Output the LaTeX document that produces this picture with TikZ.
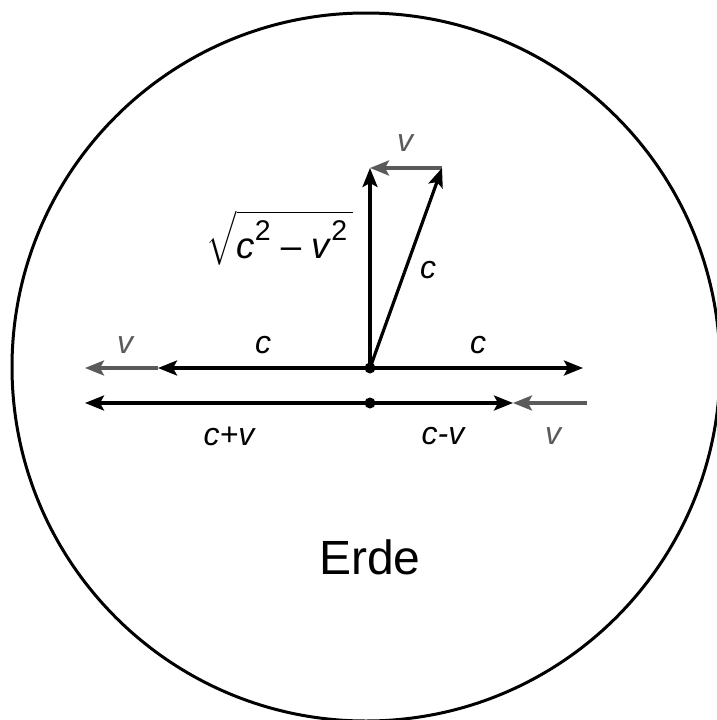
\documentclass[tikz,border=0pt]{standalone}
\usepackage{graphicx}
\usepackage{fontspec}
\setmainfont{Liberation Sans}
\usetikzlibrary{arrows.meta}
\definecolor{vgray}{HTML}{5A5A5A}
\begin{document}
\begin{tikzpicture}[x=1pt,y=-1pt,
  lbl/.style={font=\fontsize{32}{32}\selectfont\itshape, inner sep=0pt, text=black},
  glbl/.style={lbl, text=vgray},
  blk/.style={line width=3.2pt, draw=black, -{Stealth[length=19pt,width=15pt,inset=4pt]}},
  gry/.style={blk, draw=vgray, fill=vgray},
  dot/.style={circle, fill=black, inner sep=0pt, minimum size=11pt}]
\useasboundingbox (0,0) rectangle (717,720);
\draw[line width=3pt] (366,367) circle (354);
% points
\coordinate (O) at (370,368);
\coordinate (O2) at (370,403);
\coordinate (T) at (370,168);
\coordinate (D) at (442,168);
\coordinate (Lc) at (158,368);
\coordinate (Lv) at (85,368);
\coordinate (R) at (583,368);
\coordinate (L2) at (85,403);
\coordinate (R2) at (513,403);
\coordinate (G2) at (587,403);
% arrows
\draw[gry] (D) -- (T);
\draw[blk] (O) -- (T);
\draw[blk] (O) -- (D);
\draw[gry] (Lc) -- (Lv);
\draw[blk] (O) -- (Lc);
\draw[blk] (O) -- (R);
\draw[blk] (O2) -- (L2);
\draw[blk] (O2) -- (R2);
\draw[gry] (G2) -- (R2);
\node[dot] (d1) at (O) {};
\node[dot] (d2) at (O2) {};
% labels
\node[glbl] (lv1) at (405,143) {v};
\node[lbl] (lc1) at (428,270) {c};
\node[inner sep=0pt] (lsq) at (280,238)
  {\scalebox{3}{\fontsize{12.2}{13}\selectfont$\sqrt{\hbox{\textit{c}\raisebox{6pt}{\fontsize{9.5}{9.5}\selectfont 2} -- \textit{v}\raisebox{6pt}{\fontsize{9.5}{9.5}\selectfont 2}\,}}$}};
\node[glbl] (lv2) at (125,345) {v};
\node[lbl] (lc2) at (263,345) {c};
\node[lbl] (lc3) at (478,345) {c};
\node[lbl] (lcpv) at (229,436) {c+v};
\node[lbl] (lcmv) at (443,436) {c-v};
\node[glbl] (lv3) at (553,436) {v};
\node[inner sep=0pt, font=\fontsize{48}{48}\selectfont] (erde) at (370,557) {Erde};
\end{tikzpicture}
\end{document}
